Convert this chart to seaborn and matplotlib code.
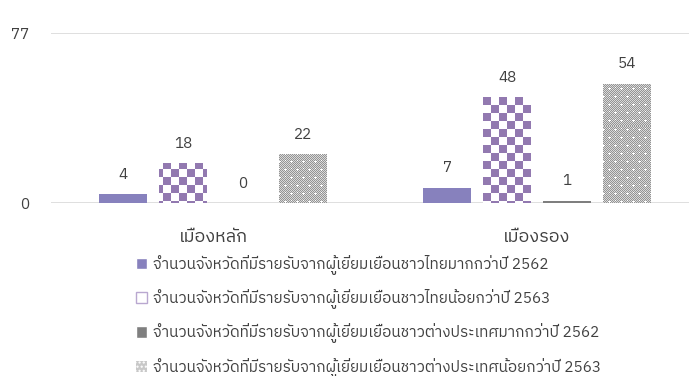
import matplotlib
matplotlib.use("Agg")
import matplotlib.pyplot as plt
import seaborn as sns
import pandas as pd
import numpy as np
from matplotlib import font_manager
from matplotlib.patches import Patch

categories = ["เมืองหลัก", "เมืองรอง"]
series = [
    "จำนวนจังหวัดที่มีรายรับจากผู้เยี่ยมเยือนชาวไทยมากกว่าปี 2562",
    "จำนวนจังหวัดที่มีรายรับจากผู้เยี่ยมเยือนชาวไทยน้อยกว่าปี 2563",
    "จำนวนจังหวัดที่มีรายรับจากผู้เยี่ยมเยือนชาวต่างประเทศมากกว่าปี 2562",
    "จำนวนจังหวัดที่มีรายรับจากผู้เยี่ยมเยือนชาวต่างประเทศน้อยกว่าปี 2563",
]
values = {
    series[0]: [4, 7],
    series[1]: [18, 48],
    series[2]: [0, 1],
    series[3]: [22, 54],
}
yticks = [0, 77]

rows = []
for s in series:
    for c, v in zip(categories, values[s]):
        rows.append({"cat": c, "series": s, "val": v})
df = pd.DataFrame(rows)

sns.set_theme(style="white")
thai = sorted(set(f.name for f in font_manager.fontManager.ttflist if "Thai" in f.name))
plt.rcParams['font.family'] = thai[:1] + ['DejaVu Sans']

W_IN, H_IN, DPI = 6.89, 3.76, 100
fig = plt.figure(figsize=(W_IN, H_IN), dpi=DPI)
ax_rect = [0.074, 0.46, 0.9405, 0.452]
ax = fig.add_axes(ax_rect)

palette = ["#8781bd", "#ffffff", "#7f7f7f", "#b3b3b3"]
sns.barplot(data=df, x="cat", y="val", hue="series", hue_order=series,
            palette=palette, ax=ax, width=0.74, gap=0.2, legend=False,
            saturation=1)

ax.set_ylim(0, 77)
ax.set_xlim(-0.5, 1.5)

# texture images in axes pixel resolution
pw = int(round(ax_rect[2] * W_IN * DPI))
ph = int(round(ax_rect[3] * H_IN * DPI))
yy, xx = np.mgrid[0:ph, 0:pw]
purple = np.array([0x92, 0x79, 0xb0]) / 255.0
checker = ((xx // 8 + yy // 8) % 2 == 0)
tex_check = np.ones((ph, pw, 3))
tex_check[checker] = purple

fine = ((xx + yy) % 2 == 0)
tex_gray = np.ones((ph, pw, 3)) * (0xd9 / 255.0)
tex_gray[fine] = 0x94 / 255.0
row = yy // 8
colshift = (row % 2) * 6
cx = (xx + colshift) % 12
cy = yy % 8
plus = ((cx == 0) & ((cy == 0) | (cy == 1) | (cy == 7))) | ((cy == 0) & ((cx == 1) | (cx == 11)))
tex_gray[plus] = 1.0

extent = (-0.5, 1.5, 0, 77)
textures = {1: tex_check, 3: tex_gray}
for i, cont in enumerate(ax.containers):
    for p in cont:
        p.set_linewidth(0)
        if i in textures:
            im = ax.imshow(textures[i], extent=extent, aspect="auto",
                           interpolation="nearest", origin="upper",
                           zorder=p.get_zorder() + 0.1)
            im.set_clip_path(p)
    ax.bar_label(cont, padding=9, fontsize=11, color="#404040")

ax.set_xlim(-0.5, 1.5)
ax.set_ylim(0, 77)
ax.set_yticks(yticks)
ax.set_yticklabels([str(t) for t in yticks], fontsize=11, color="#404040")
ax.tick_params(axis="y", length=0, pad=16)
ax.tick_params(axis="x", length=0, pad=18, labelsize=13, labelcolor="#404040")
ax.grid(axis="y", color="#d9d9d9", linewidth=1.2)
ax.set_axisbelow(True)
for sp in ax.spines.values():
    sp.set_visible(False)
ax.set_xlabel("")
ax.set_ylabel("")

handles = []
for i, s in enumerate(series):
    if i == 1:
        handles.append(Patch(facecolor="white", edgecolor="#b9a8d0", linewidth=1))
    elif i == 3:
        handles.append(Patch(facecolor="#c8c8c8", hatch="....", edgecolor="white", linewidth=0))
    else:
        handles.append(Patch(facecolor=palette[i]))
fig.legend(handles, series, loc="upper left", bbox_to_anchor=(0.197, 0.322),
           frameon=False, fontsize=11, labelspacing=0.93, handlelength=0.75,
           handleheight=0.75, handletextpad=0.4, labelcolor="#404040",
           borderaxespad=0, borderpad=0)

fig.savefig("out.png", dpi=DPI)
